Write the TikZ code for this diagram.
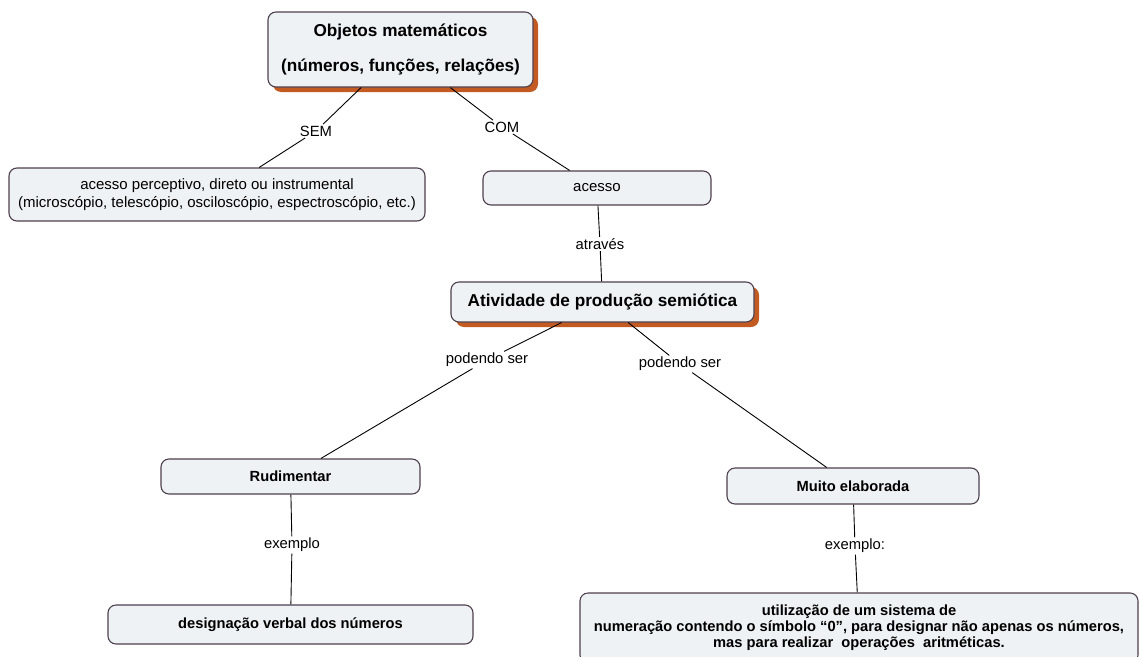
\documentclass[tikz,border=0pt]{standalone}
\usepackage{fontspec}
\setmainfont{Liberation Sans}
\usetikzlibrary{shadows}
\definecolor{boxfill}{HTML}{EEF2F4}
\definecolor{boxline}{HTML}{4E404E}
\definecolor{shadowc}{HTML}{C35A22}
\begin{document}
\begin{tikzpicture}[x=1pt,y=-1pt,
  concept/.style={draw=boxline, fill=boxfill, line width=1.1pt, rounded corners=8pt,
    inner sep=0pt, align=center, font=\fontsize{14.7}{16}\selectfont\bfseries},
  plainbox/.style={concept, font=\fontsize{15}{17.5}\selectfont},
  keybox/.style={concept, font=\fontsize{17.2}{20}\selectfont\bfseries,
    drop shadow={shadow xshift=5pt, shadow yshift=-5pt, fill=shadowc, opacity=1}},
  linklabel/.style={inner sep=1.5pt, font=\fontsize{14.8}{17}\selectfont},
  link/.style={draw=black, line width=0.9pt}]
\useasboundingbox (0,0) rectangle (1140,656);
\clip (0,0) rectangle (1140,656);
\fill[white] (0,0) rectangle (1140,656);

% concepts
\node[keybox, minimum width=265pt, minimum height=75pt] (obj) at (400.5,49.5)
  {Objetos matemáticos\\[15pt](números, funções, relações)};
\node[plainbox, minimum width=416pt, minimum height=53pt] (perc) at (217,194.5)
  {acesso perceptivo, direto ou instrumental\\(microscópio, telescópio, osciloscópio, espectroscópio, etc.)};
\node[plainbox, minimum width=228pt, minimum height=34pt] (acesso) at (597,188) {acesso};
\node[keybox, minimum width=303pt, minimum height=40pt] (ativ) at (602.5,302)
  {Atividade de produção semiótica};
\node[concept, minimum width=259pt, minimum height=35pt] (rud) at (290.5,476.5) {Rudimentar};
\node[concept, minimum width=252pt, minimum height=36pt] (muito) at (853,486) {Muito elaborada};
\node[concept, minimum width=365pt, minimum height=39pt] (desig) at (290.5,624.5)
  {designação verbal dos números};
\node[concept, minimum width=558pt, minimum height=70pt] (util) at (859,628)
  {utilização de um sistema de\\numeração contendo o símbolo “0”, para designar não apenas os números,\\mas para realizar\ \ operações\ \ aritméticas.};

% linking phrases
\node[linklabel] (sem) at (316,131) {SEM};
\node[linklabel] (com) at (502,127) {COM};
\node[linklabel] (atr) at (600,244) {através};
\node[linklabel] (podl) at (487,360) {podendo ser};
\node[linklabel] (podr) at (680,364) {podendo ser};
\node[linklabel] (exl) at (292,545) {exemplo};
\node[linklabel] (exr) at (855,546) {exemplo:};

% connectors
\draw[link] (obj) -- (sem) -- (perc);
\draw[link] (obj) -- (com) -- (acesso);
\draw[link] (acesso) -- (atr) -- (ativ);
\draw[link] (ativ) -- (podl) -- (rud);
\draw[link] (ativ) -- (podr) -- (muito);
\draw[link] (rud) -- (exl) -- (desig);
\draw[link] (muito) -- (exr) -- (util);
\end{tikzpicture}
\end{document}
